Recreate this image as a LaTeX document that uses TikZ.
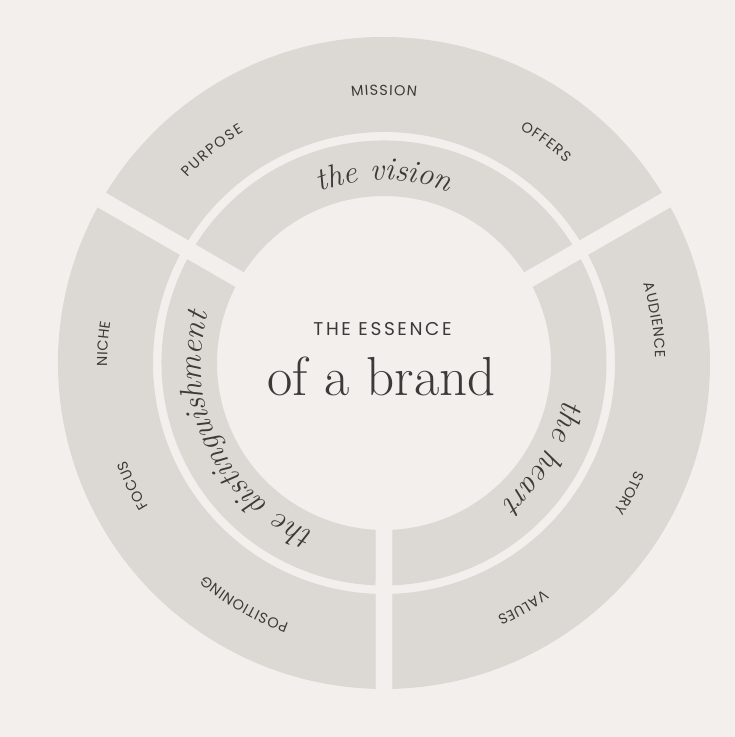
\documentclass[tikz,border=0pt]{standalone}
\usepackage{fontspec}
\newfontfamily\labelfont{Poppins}
\usetikzlibrary{decorations.text}
\definecolor{bgc}{HTML}{F2EFED}
\definecolor{segc}{HTML}{DCD9D4}
\definecolor{txtc}{HTML}{3C3A38}
\newcommand\gapw{8.5}
% sector: start angle, end angle, inner radius, outer radius
\newcommand\ringsector[4]{%
  \fill[segc] ({#1+asin(\gapw/#4)}:#4pt)
    arc[start angle={#1+asin(\gapw/#4)}, end angle={#2-asin(\gapw/#4)}, radius=#4pt]
    -- ({#2-asin(\gapw/#3)}:#3pt)
    arc[start angle={#2-asin(\gapw/#3)}, end angle={#1+asin(\gapw/#3)}, radius=#3pt]
    -- cycle;}
\newcommand\olab{\labelfont\fontsize{14.5}{14.5}\selectfont}
\newcommand\ilab{\fontsize{32}{32}\selectfont\itshape}
% label along clockwise arc: start, end, radius, text
\newcommand\outerlabel[4]{%
  \path[decorate, decoration={text along path, text color=txtc, text align=fit to path, text={|\olab|#4}}]
    (#1:#3pt) arc[start angle=#1, end angle=#2, radius=#3pt];}
\newcommand\innerlabel[4]{%
  \path[decorate, decoration={text along path, text color=txtc, text align=center, text={|\ilab|#4}}]
    (#1:#3pt) arc[start angle=#1, end angle=#2, radius=#3pt];}
\begin{document}
\begin{tikzpicture}[x=1pt,y=1pt]
\useasboundingbox (-384,-374) rectangle (351,363);
\fill[bgc] (-384,-374) rectangle (351,363);
% outer ring
\ringsector{30}{150}{231}{326}
\ringsector{150}{270}{231}{326}
\ringsector{-90}{30}{231}{326}
% inner ring
\ringsector{30}{150}{167}{222.5}
\ringsector{150}{270}{167}{222.5}
\ringsector{-90}{30}{167}{222.5}
% outer labels
\outerlabel{96.95}{83.05}{268}{MISSION}
\outerlabel{136.64}{121.26}{270.5}{PURPOSE}
\outerlabel{59.83}{47.77}{270.5}{OFFERS}
\outerlabel{16.97}{0.99}{271}{AUDIENCE}
\outerlabel{-23.17}{-32.53}{273.5}{STORY}
\outerlabel{-54.85}{-65.95}{277.5}{VALUES}
\outerlabel{249.92}{229.88}{277.3}{POSITIONING}
\outerlabel{211.36}{200.64}{275.4}{FOCUS}
\outerlabel{180.76}{171.44}{276.8}{NICHE}
% inner labels
\innerlabel{140}{40}{183}{the vision}
\innerlabel{30}{-91}{183}{the heart}
\innerlabel{266}{146}{183}{the distinguishment}
% centre
\node[anchor=base, text=txtc, inner sep=0pt] (essence) at (-1.5,28)
  {\labelfont\addfontfeature{LetterSpace=14}\fontsize{18.5}{18.5}\selectfont THE ESSENCE};
\node[anchor=base, text=txtc, inner sep=0pt] (brand) at (-2.5,-32)
  {\fontsize{55}{55}\selectfont of a brand};
\end{tikzpicture}
\end{document}
